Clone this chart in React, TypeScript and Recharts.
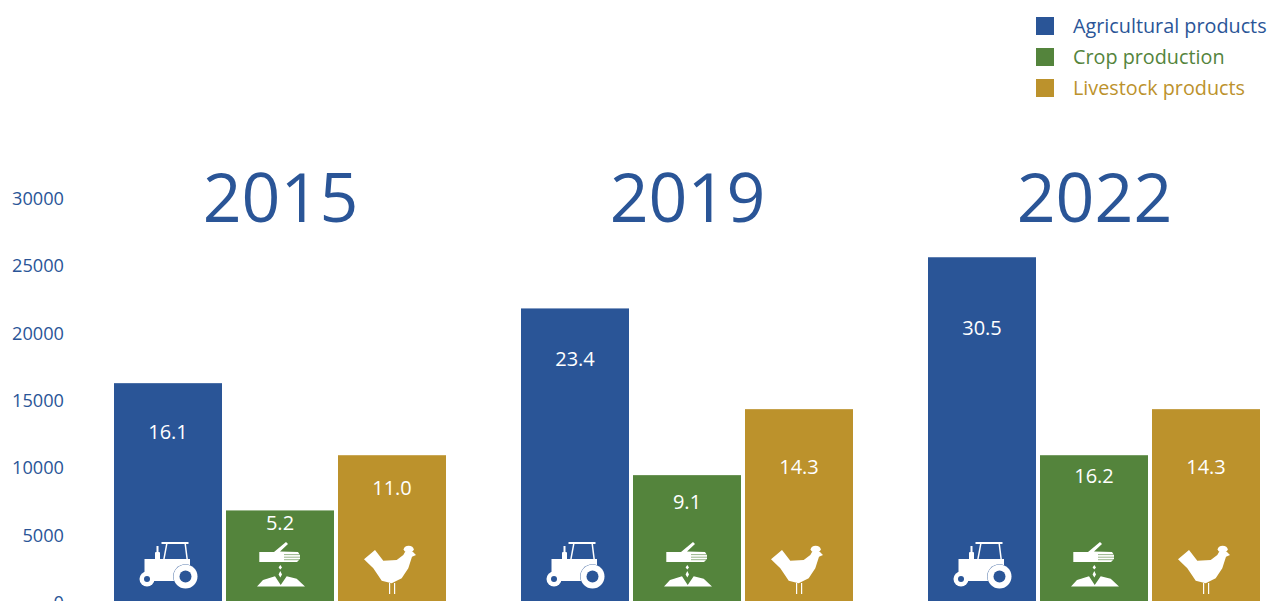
import { BarChart, Bar, XAxis, YAxis, Legend, LabelList } from 'recharts'

const years = ['2015', '2019', '2022']
const agricultural = [16250, 21800, 25600]
const crop = [6800, 9420, 10900]
const livestock = [10900, 14320, 14320]
const agriculturalShares = ['16.1', '23.4', '30.5']
const cropShares = ['5.2', '9.1', '16.2']
const livestockShares = ['11.0', '14.3', '14.3']
const yTicks = [0, 5000, 10000, 15000, 20000, 25000, 30000]

const BLUE = '#2a5597'
const GREEN = '#54843c'
const GOLD = '#bc922c'
const FONT = '"Open Sans", sans-serif'

// how far each value label sits below the top of its bar, the picture has no fixed rule for it
const agriculturalDrop = [48, 50, 70]
const cropDrop = [12, 26, 20]
const livestockDrop = [32, 57, 57]

const data = years.map((year, i) => ({
  year,
  agricultural: agricultural[i],
  crop: crop[i],
  livestock: livestock[i],
}))

const legendItems = [
  { name: 'Agricultural products', color: BLUE },
  { name: 'Crop production', color: GREEN },
  { name: 'Livestock products', color: GOLD },
]

const TractorIcon = () => (
  <g fill="white">
    <rect x={-6.5} y={-60} width={27} height={2} />
    <path d="M-2 -58 L-0.5 -58 L-3.5 -42 L-5 -42 Z" />
    <path d="M16.5 -58 L18 -58 L20 -42 L18.5 -42 Z" />
    <rect x={-11.5} y={-56} width={2} height={6} />
    <rect x={-13} y={-50} width={5} height={9} rx={1} />
    <path d="M-23.5 -43 L22 -43 L22 -26 L8 -21 L-15 -21 L-23.5 -26 Z" />
    <circle cx={17.5} cy={-25.5} r={12.3} fill={BLUE} />
    <circle cx={17.5} cy={-25.5} r={12} />
    <circle cx={17.5} cy={-25.5} r={6} fill={BLUE} />
    <circle cx={-21} cy={-23} r={7.5} />
    <circle cx={-21} cy={-23} r={3} fill={BLUE} />
  </g>
)

const SeedIcon = () => (
  <g fill="white">
    <path d="M-20.7 -50 L-6 -50 L6 -60 L8 -58 L0 -50.5 L18 -50 L20 -47 L20 -43 L17 -40 L-20.7 -40 Z" />
    <path d="M4 -47.4 H20 M4 -44.8 H20 M4 -42.3 H20" stroke={GREEN} strokeWidth={0.6} />
    <path d="M0.3 -37 L2 -34.5 L0.3 -32.5 L-1.4 -34.5 Z M0.3 -31 L2 -27.5 L0.3 -24.5 L-1.4 -27.5 Z" />
    <path d="M-23 -15.5 L-17 -22 L-5 -25.7 L0.7 -17 L6.7 -25.7 L16.7 -23.3 L25 -15.5 Z" />
  </g>
)

const ChickenIcon = () => (
  <g fill="white">
    <path d="M-28 -42.7 L-17 -52 L-8.7 -41.3 L4.7 -42 L11.3 -47 L13 -50 L21 -50 L24 -47 L20 -45.3 L16.3 -33.7 L9.7 -23.7 L-0.3 -18.7 L-10.3 -21.3 L-15.3 -28.7 L-18.7 -33.7 Z" />
    <ellipse cx={16.7} cy={-52.7} rx={5} ry={3.5} />
    <rect x={-3} y={-19} width={1.2} height={11} />
    <rect x={2} y={-19} width={1.2} height={11} />
  </g>
)

// bar plus its white icon, the icon hangs off the bar's own zero line
const iconBar = (Icon: () => React.ReactElement) => (props: any) => {
  const { x, y, width, height, fill } = props
  return (
    <g>
      <rect x={x} y={y} width={width} height={height} fill={fill} />
      <g transform={`translate(${x + width / 2} ${y + height})`}>
        <Icon />
      </g>
    </g>
  )
}

const shareLabel = (shares: string[], drops: number[]) => (props: any) => {
  const { x, y, width, index } = props
  return (
    <text
      x={x + width / 2}
      y={y + drops[index]}
      fill="white"
      fontSize={20}
      fontFamily={FONT}
      textAnchor="middle"
      dominantBaseline="central"
    >
      {shares[index]}
    </text>
  )
}

const YearTick = ({ x, y, payload }: any) => (
  <text x={x + 1} y={y + 32} fill={BLUE} fontSize={68} fontFamily={FONT} textAnchor="middle">
    {payload.value}
  </text>
)

const LegendBox = () => (
  <div style={{ fontFamily: FONT, fontSize: 19.8 }}>
    {legendItems.map((item) => (
      <div key={item.name} style={{ display: 'flex', alignItems: 'center', height: 31, whiteSpace: 'nowrap' }}>
        <span style={{ width: 18, height: 18, background: item.color, marginRight: 19, flex: 'none' }} />
        <span style={{ color: item.color }}>{item.name}</span>
      </div>
    ))}
  </div>
)

export default function App() {
  return (
    <div style={{ position: 'absolute', left: 0, top: 0, width: 1267, height: 601, overflow: 'hidden', background: 'white' }}>
      <BarChart
        width={1300}
        height={640}
        data={data}
        margin={{ top: 197, right: 3, bottom: 38, left: 0 }}
        barSize={108}
        barGap={4}
      >
        <XAxis dataKey="year" orientation="top" height={1} axisLine={false} tickLine={false} tick={<YearTick />} interval={0} />
        <YAxis
          width={76}
          domain={[0, 30000]}
          ticks={yTicks}
          axisLine={false}
          tickLine={false}
          tickMargin={6}
          tick={{ fontSize: 18.2, fill: BLUE, fontFamily: FONT, dy: 0.5 }}
        />
        <Legend
          layout="horizontal"
          verticalAlign="middle"
          align="center"
          content={<LegendBox />}
          wrapperStyle={{ top: 10, left: 1036, width: 260 }}
        />
        <Bar dataKey="agricultural" fill={BLUE} isAnimationActive={false} shape={iconBar(TractorIcon)}>
          <LabelList dataKey="agricultural" content={shareLabel(agriculturalShares, agriculturalDrop)} />
        </Bar>
        <Bar dataKey="crop" fill={GREEN} isAnimationActive={false} shape={iconBar(SeedIcon)}>
          <LabelList dataKey="crop" content={shareLabel(cropShares, cropDrop)} />
        </Bar>
        <Bar dataKey="livestock" fill={GOLD} isAnimationActive={false} shape={iconBar(ChickenIcon)}>
          <LabelList dataKey="livestock" content={shareLabel(livestockShares, livestockDrop)} />
        </Bar>
      </BarChart>
    </div>
  )
}
